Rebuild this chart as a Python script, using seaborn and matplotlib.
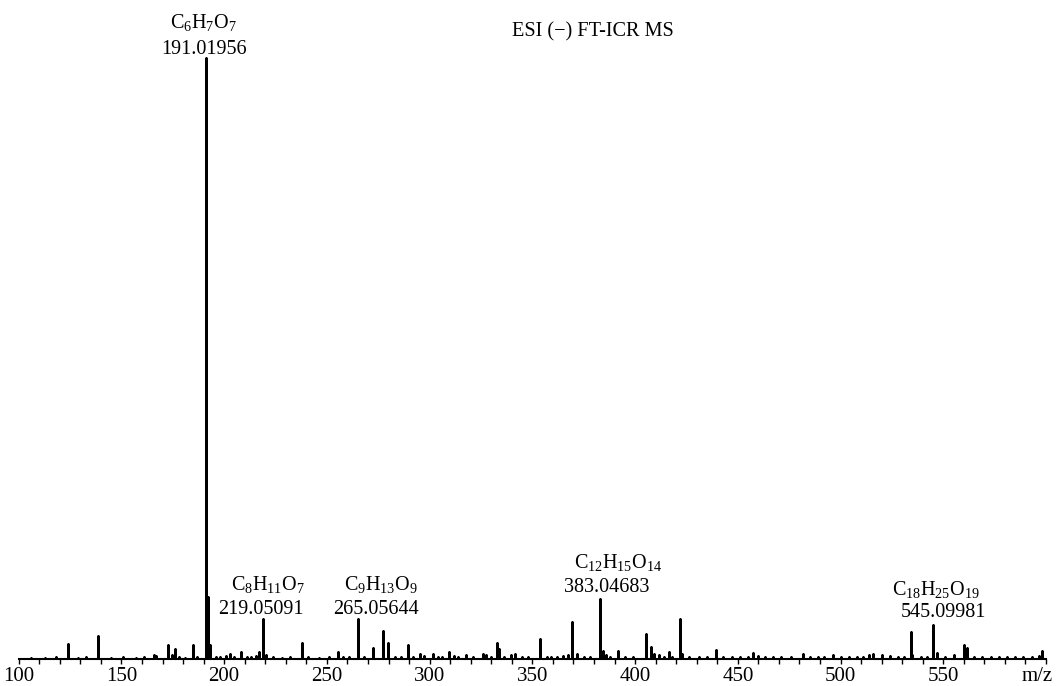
import matplotlib
matplotlib.use("Agg")
import matplotlib.pyplot as plt
import seaborn as sns
import pandas as pd

# stick spectrum (m/z, relative intensity %)
peak_mz = [
    124.1, 138.4, 166.0, 167.0, 172.8, 174.6, 175.9, 184.7,
    191.01956, 192.0, 193.1, 200.9, 203.0, 208.0, 215.5, 217.0,
    219.05091, 220.2, 237.7, 255.2, 265.05644, 272.3, 277.3, 279.6,
    289.3, 295.4, 297.2, 301.5, 309.4, 311.8, 317.7, 325.8, 327.4,
    332.8, 333.6, 339.6, 341.4, 353.6, 362.0, 365.0, 367.5, 369.3,
    371.5, 383.04683, 384.5, 385.8, 391.5, 405.4, 407.5, 409.3,
    411.7, 416.4, 421.8, 422.7, 439.6, 457.5, 459.9, 481.5, 496.1,
    514.0, 516.0, 520.0, 524.0, 534.1, 535.0, 545.09981, 547.1,
    555.2, 560.1, 561.7, 596.6, 597.8,
]
peak_int = [
    2.5, 3.8, 0.6, 0.5, 2.4, 0.6, 1.7, 2.3,
    100.0, 10.3, 2.4, 0.5, 0.8, 1.2, 0.5, 1.2,
    6.6, 0.7, 2.7, 1.2, 6.6, 1.9, 4.7, 2.7,
    2.3, 0.8, 0.5, 0.9, 1.1, 0.5, 0.7, 0.9, 0.7,
    2.7, 1.6, 0.7, 0.9, 3.4, 0.4, 0.5, 0.6, 6.2,
    0.9, 10.0, 1.3, 0.7, 1.4, 4.2, 2.0, 0.8,
    0.7, 1.2, 6.6, 0.8, 1.5, 1.0, 0.5, 0.8, 0.7,
    0.6, 0.8, 0.7, 0.5, 4.5, 0.7, 5.7, 1.0,
    0.7, 2.4, 1.8, 0.5, 1.3,
]

# baseline grass
noise_mz = [
    106, 113, 118, 129, 133, 145, 151, 157, 161, 178, 181, 187, 196, 198,
    205, 211, 213, 224, 228, 232, 241, 246, 251, 258, 261, 268, 283, 286,
    292, 304, 306, 314, 321, 330, 336, 345, 348, 357, 359, 375, 378, 388,
    395, 399, 414, 418, 426, 431, 435, 443, 447, 451, 455, 463, 467, 471,
    476, 485, 489, 492, 500, 504, 508, 511, 528, 531, 539, 542, 551, 565,
    569, 573, 577, 581, 585, 589, 593,
]
noise_int = [
    0.2, 0.2, 0.3, 0.2, 0.3, 0.2, 0.3, 0.2, 0.3, 0.3, 0.2, 0.3, 0.3, 0.4,
    0.3, 0.3, 0.4, 0.3, 0.2, 0.3, 0.3, 0.2, 0.3, 0.4, 0.3, 0.3, 0.3, 0.4,
    0.4, 0.3, 0.4, 0.3, 0.4, 0.3, 0.4, 0.3, 0.3, 0.4, 0.3, 0.4, 0.3, 0.3,
    0.4, 0.3, 0.4, 0.3, 0.3, 0.3, 0.4, 0.3, 0.3, 0.4, 0.3, 0.3, 0.4, 0.3,
    0.3, 0.4, 0.3, 0.3, 0.4, 0.3, 0.3, 0.4, 0.3, 0.3, 0.4, 0.3, 0.3, 0.3,
    0.4, 0.3, 0.3, 0.4, 0.3, 0.3, 0.4,
]

# annotated peaks: formula, number, positions of each line
ann_formula = [r"C$_\mathrm{6}$H$_\mathrm{7}$O$_\mathrm{7}$",
               r"C$_\mathrm{8}$H$_\mathrm{11}$O$_\mathrm{7}$",
               r"C$_\mathrm{9}$H$_\mathrm{13}$O$_\mathrm{9}$",
               r"C$_\mathrm{12}$H$_\mathrm{15}$O$_\mathrm{14}$",
               r"C$_\mathrm{18}$H$_\mathrm{25}$O$_\mathrm{19}$"]
ann_number = ["191.01956", "219.05091", "265.05644", "383.04683", "545.09981"]
ann_fx = [190.0, 221.3, 276.4, 391.6, 546.4]
ann_nx = [190.2, 217.9, 273.9, 386.3, 550.3]
ann_fy = [105.0, 11.5, 11.5, 15.1, 10.6]
ann_ny = [100.6, 7.5, 7.5, 11.1, 7.0]

xlim = (100, 600)

# build stick spectrum as one polyline
sticks = sorted(zip(peak_mz + noise_mz, peak_int + noise_int))
xs, ys = [xlim[0]], [0.0]
for mz, h in sticks:
    xs += [mz, mz, mz]
    ys += [0.0, h, 0.0]
xs.append(xlim[1])
ys.append(0.0)
df = pd.DataFrame({"mz": xs, "intensity": ys})

sns.set_theme(style="ticks")
plt.rcParams["font.family"] = ["Liberation Serif", "DejaVu Serif"]
plt.rcParams["mathtext.fontset"] = "custom"
plt.rcParams["mathtext.rm"] = "Liberation Serif"
plt.rcParams["mathtext.it"] = "Liberation Serif:italic"
plt.rcParams["text.color"] = "black"

fig = plt.figure(figsize=(10.61, 6.86), dpi=100)
ax = fig.add_axes([0.0176, 0.0394, 0.9683, 0.9606])
sns.lineplot(data=df, x="mz", y="intensity", sort=False, estimator=None,
             color="black", linewidth=1.8, ax=ax)

ax.set_xlim(*xlim)
ax.set_ylim(0, 109.65)
ax.set_xticks(range(100, 551, 50))
ax.set_xticks(range(100, 601, 10), minor=True)
ax.tick_params(axis="x", which="both", direction="out", length=3.5, width=1,
               labelsize=15, pad=2.5, color="black", labelcolor="black")
ax.set_yticks([])
ax.set_xlabel("")
ax.set_ylabel("")
for s in ["top", "right", "left"]:
    ax.spines[s].set_visible(False)
ax.spines["bottom"].set_linewidth(1.5)
ax.spines["bottom"].set_color("black")

ax.text(595.5, -2.9, "m/z", ha="center", va="center", fontsize=15,
        clip_on=False)
ax.text(379.5, 104.4, "ESI (\u2212) FT-ICR MS", ha="center", va="center",
        fontsize=14.6)

for f, n, fx, nx, fy, ny in zip(ann_formula, ann_number, ann_fx, ann_nx,
                                ann_fy, ann_ny):
    ax.text(fx, fy, f, ha="center", va="baseline", fontsize=14.5)
    ax.text(nx, ny, n, ha="center", va="baseline", fontsize=14.5)

fig.savefig("out.png", dpi=100)
